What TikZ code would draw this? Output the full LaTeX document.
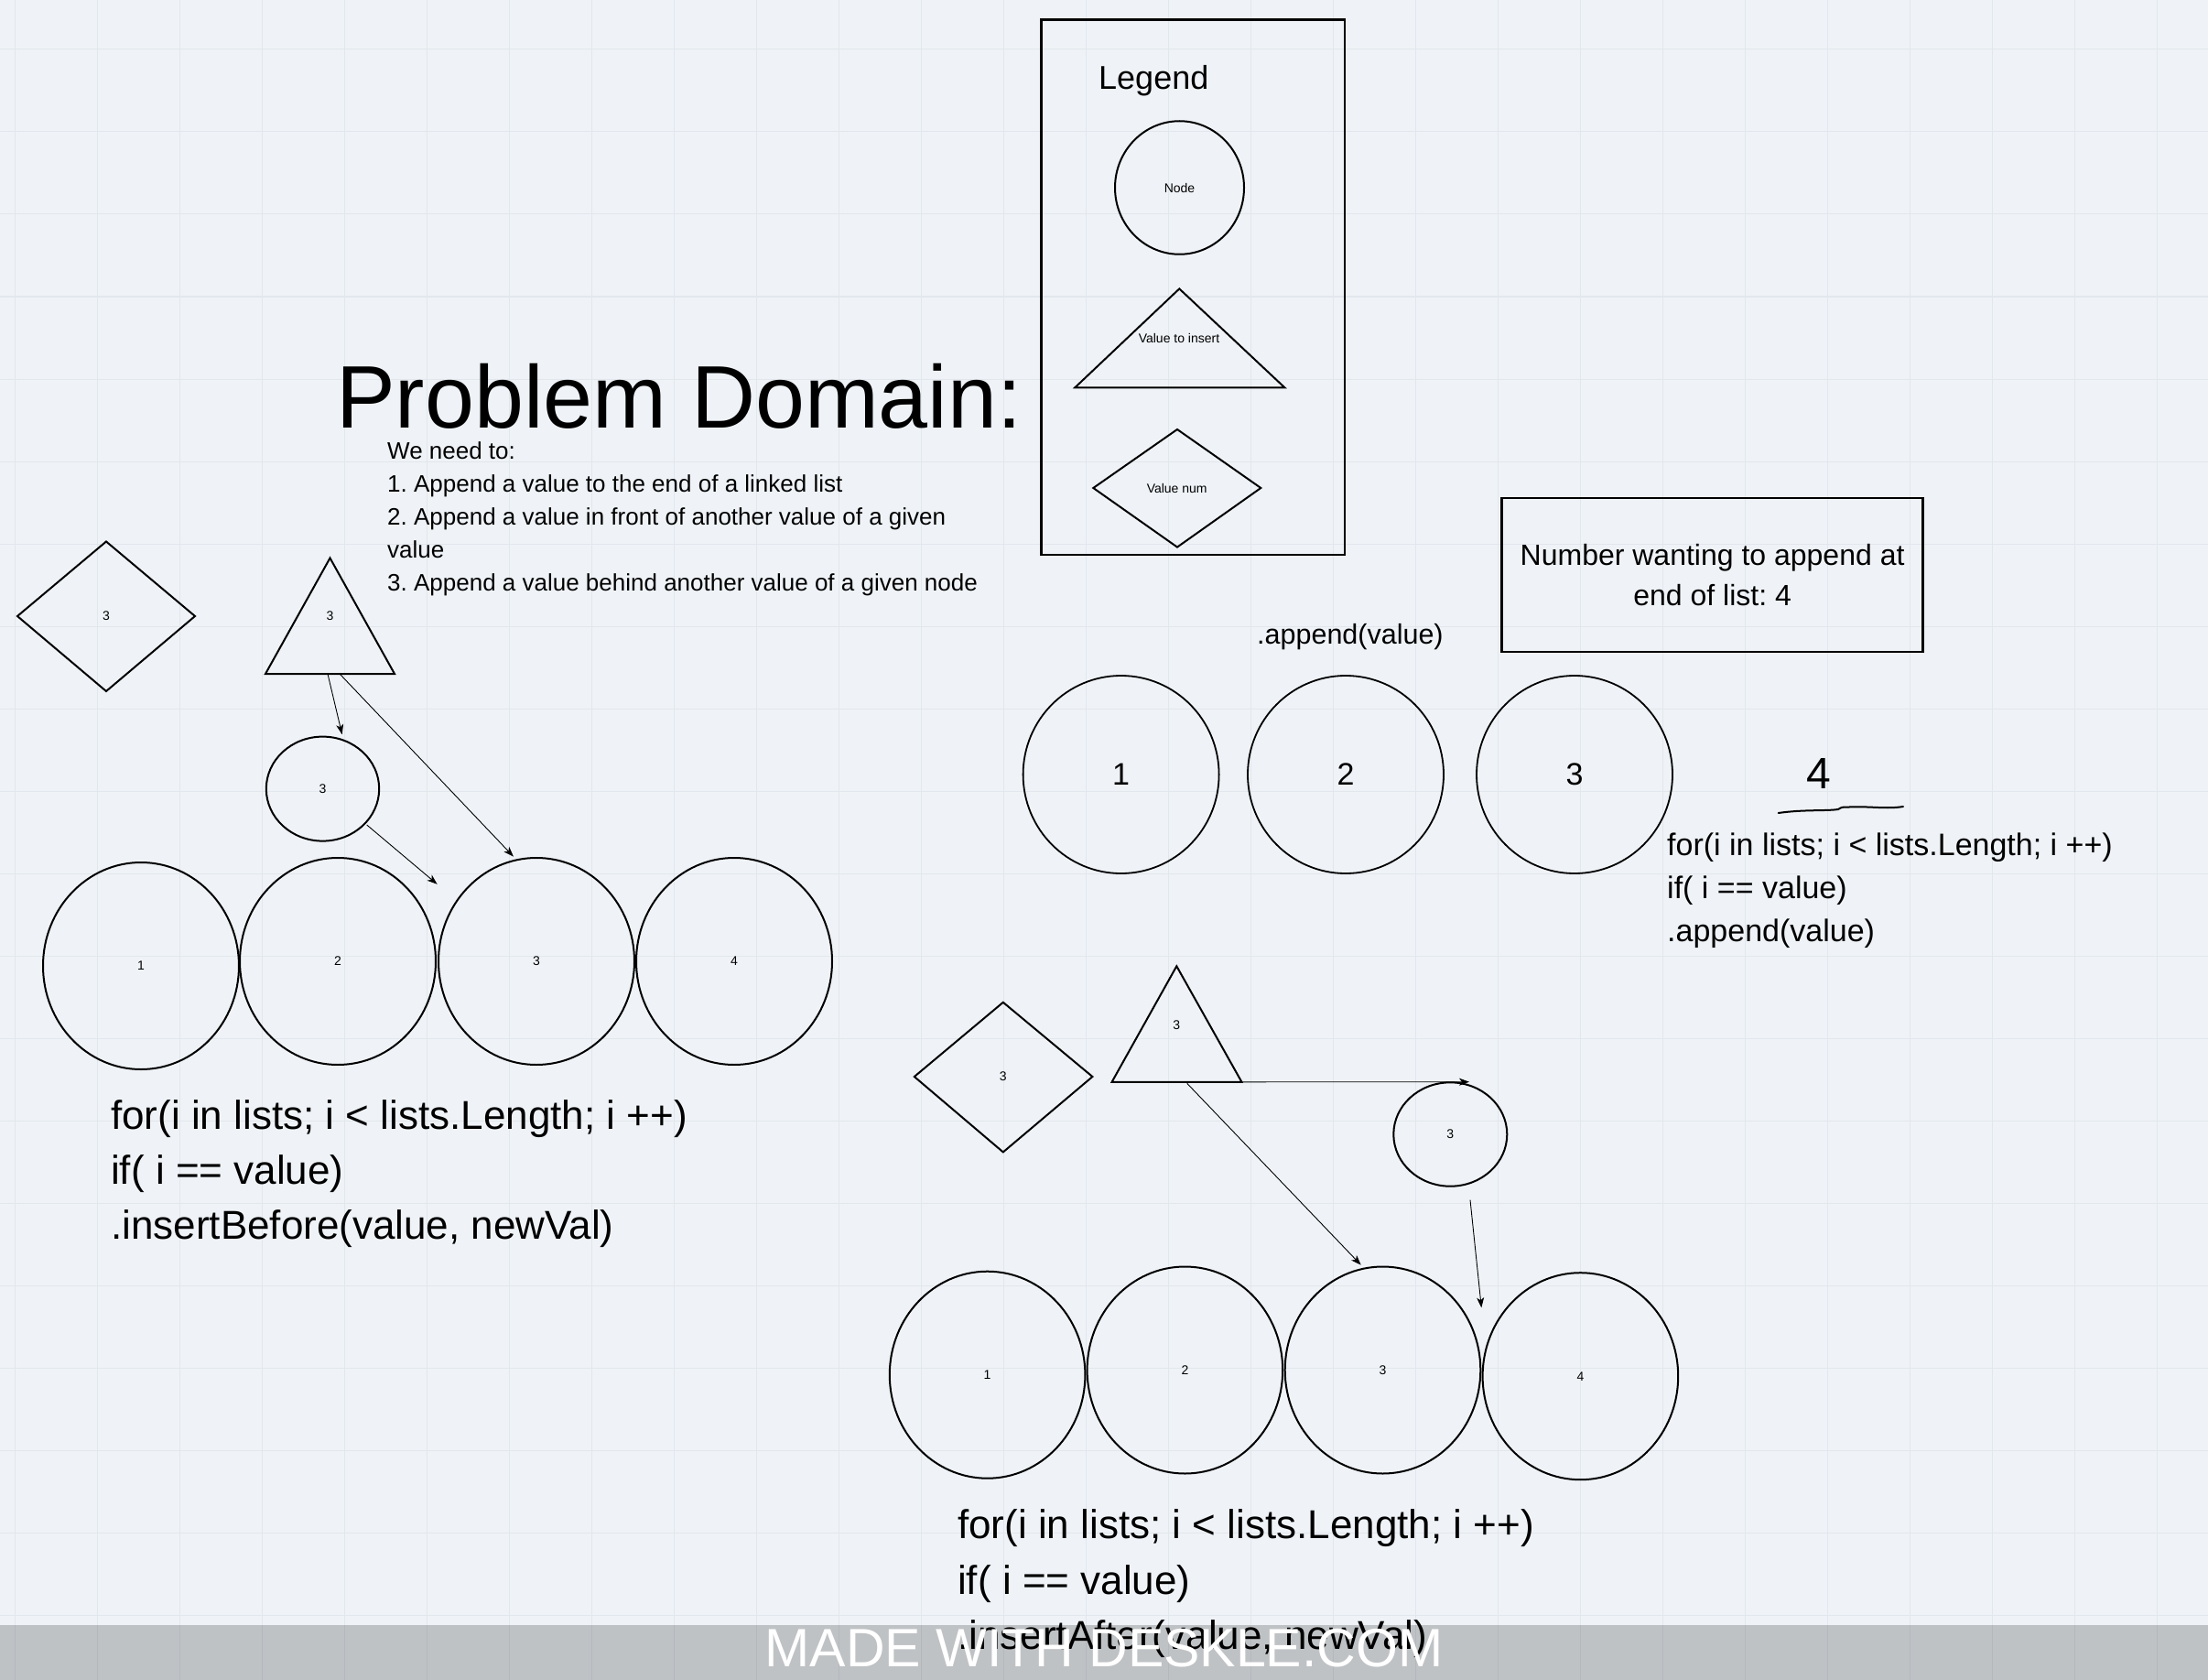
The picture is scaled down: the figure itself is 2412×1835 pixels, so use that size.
\documentclass[tikz,border=0pt]{standalone}
\usepackage{fontspec}
\setmainfont{Liberation Sans}
\usetikzlibrary{shapes.geometric,arrows.meta}
\definecolor{bg}{RGB}{239,243,247}
\definecolor{gridc}{RGB}{226,231,237}
\frenchspacing
\begin{document}
\begin{tikzpicture}[x=1pt,y=-1pt,
  shp/.style={draw=black, line width=2pt},
  ell/.style={shp, ellipse, inner sep=0pt, font=\fontsize{14}{16}\selectfont},
  lbl/.style={inner sep=0pt, font=\fontsize{14}{16}\selectfont},
  txt/.style={inner sep=0pt, anchor=base west},
  arr/.style={-{Stealth[length=11pt,width=8pt,inset=3pt]}, line width=0.9pt},
  bigcode/.style={txt, font=\fontsize{44}{60}\selectfont},
  midcode/.style={txt, font=\fontsize{34}{47}\selectfont},
  body/.style={txt, font=\fontsize{26}{36}\selectfont}]
\fill[bg] (0,0) rectangle (2412,1835);
\useasboundingbox (0,0) rectangle (2412,1835);
\foreach \i in {0,...,26} {\draw[gridc,line width=1pt] ({16.5+90*\i},0) -- ({16.5+90*\i},1835);}
\foreach \j in {0,...,19} {\draw[gridc,line width=1pt] (0,{54+90*\j}) -- (2412,{54+90*\j});}

% ---------- title and problem text ----------
\node[txt, font=\fontsize{97}{110}\selectfont] (title) at (367,467) {Problem Domain:};
\node[body] (b1) at (423,501) {We need to:};
\node[body] (b2) at (423,537) {1. Append a value to the end of a linked list};
\node[body] (b3) at (423,573) {2. Append a value in front of another value of a given};
\node[body] (b4) at (423,609) {value};
\node[body] (b5) at (423,645) {3. Append a value behind another value of a given node};

% ---------- legend ----------
\draw[line width=2.5pt] (1137.3,21.7) rectangle (1469,606);
\node[txt, font=\fontsize{36}{42}\selectfont] (legtitle) at (1200,97.6) {Legend};
\node[ell, minimum width=141pt, minimum height=145.5pt] (legnode) at (1288.5,205) {Node};
\draw[shp] (1288.3,315.4) -- (1174.3,423.3) -- (1403.3,423.3) -- cycle;
\node[lbl] (legtri) at (1288,369.6) {Value to insert};
\draw[shp] (1286,469) -- (1194.3,533) -- (1286,597.6) -- (1377.3,533) -- cycle;
\node[lbl] (legdia) at (1285.7,533) {Value num};

% ---------- append section ----------
\draw[line width=2.5pt] (1640.6,544) rectangle (2100.6,712);
\node[inner sep=0pt, anchor=base, font=\fontsize{32}{44}\selectfont] (nb1) at (1870.6,617.5) {Number wanting to append at};
\node[inner sep=0pt, anchor=base, font=\fontsize{32}{44}\selectfont] (nb2) at (1870.6,661) {end of list: 4};
\node[txt, font=\fontsize{30.5}{40}\selectfont] (appendlbl) at (1373,703) {.append(value)};
\node[ell, line width=1.8pt, minimum width=214pt, minimum height=216pt, font=\fontsize{34}{40}\selectfont] (ac1) at (1224.6,846) {1};
\node[ell, line width=1.8pt, minimum width=214pt, minimum height=216pt, font=\fontsize{34}{40}\selectfont] (ac2) at (1470,846) {2};
\node[ell, line width=1.8pt, minimum width=214pt, minimum height=216pt, font=\fontsize{34}{40}\selectfont] (ac3) at (1720,846) {3};
\node[inner sep=0pt, font=\fontsize{48}{56}\selectfont] (four) at (1987,844.5) {4};
\draw[line width=2pt, line cap=round] (1942.7,888) .. controls (1970,884) and (1995,886) .. (2008,884) .. controls (2012,881.5) .. (2020,881.5) .. controls (2045,880.5) and (2060,884) .. (2079,881);
\node[midcode] (rc1) at (1821,934) {for(i in lists; i < lists.Length; i ++)};
\node[midcode] (rc2) at (1821,981) {if( i == value)};
\node[midcode] (rc3) at (1821,1028) {.append(value)};

% ---------- insertBefore section ----------
\draw[shp] (116,591.5) -- (19,673) -- (116,755) -- (213,673) -- cycle;
\node[lbl] (ldia) at (116,673) {3};
\draw[shp] (360.5,609.5) -- (290,736) -- (431,736) -- cycle;
\node[lbl] (ltri) at (360.5,673) {3};
\node[ell, minimum width=123.4pt, minimum height=114pt] (lsc) at (352.5,861.6) {3};
\node[ell, minimum width=214pt, minimum height=226pt] (lc1) at (154,1055) {1};
\node[ell, minimum width=214pt, minimum height=226pt] (lc2) at (369,1050) {2};
\node[ell, minimum width=214pt, minimum height=226pt] (lc3) at (586,1050) {3};
\node[ell, minimum width=214pt, minimum height=226pt] (lc4) at (802,1050) {4};
\coordinate (la1s) at (358.2,737);
\coordinate (la1e) at (373.7,802.2);
\coordinate (la2s) at (370.3,735.2);
\coordinate (la2e) at (560.9,935.6);
\coordinate (la3s) at (400.7,901);
\coordinate (la3e) at (477.6,965.8);
\draw[arr] (la1s) -- (la1e);
\draw[arr] (la2s) -- (la2e);
\draw[arr] (la3s) -- (la3e);
\node[bigcode] (lcode1) at (121,1233) {for(i in lists; i < lists.Length; i ++)};
\node[bigcode] (lcode2) at (121,1293) {if( i == value)};
\node[bigcode] (lcode3) at (121,1353) {.insertBefore(value, newVal)};

% ---------- insertAfter section ----------
\draw[shp] (1095.8,1094.8) -- (998.8,1176) -- (1095.8,1258.4) -- (1193.4,1176) -- cycle;
\node[lbl] (bdia) at (1095.8,1176) {3};
\draw[shp] (1285.3,1055.3) -- (1214.6,1181.8) -- (1356.4,1181.8) -- cycle;
\node[lbl] (btri) at (1285.3,1119.3) {3};
\node[ell, minimum width=124pt, minimum height=113.4pt] (bsc) at (1584.3,1239) {3};
\node[ell, minimum width=213.6pt, minimum height=226pt] (bc1) at (1078.6,1501.7) {1};
\node[ell, minimum width=213.6pt, minimum height=226pt] (bc2) at (1294.4,1496.5) {2};
\node[ell, minimum width=213.6pt, minimum height=226pt] (bc3) at (1510.5,1496.5) {3};
\node[ell, minimum width=213.6pt, minimum height=226pt] (bc4) at (1726.4,1503.2) {4};
\coordinate (ba1s) at (1356.7,1181.8);
\coordinate (ba1e) at (1605,1181.7);
\coordinate (ba2s) at (1296.7,1183.3);
\coordinate (ba2e) at (1486.7,1381.7);
\coordinate (ba3s) at (1606,1310.7);
\coordinate (ba3e) at (1618.3,1428.3);
\draw[arr] (ba1s) -- (ba1e);
\draw[arr] (ba2s) -- (ba2e);
\draw[arr] (ba3s) -- (ba3e);
\node[bigcode] (bcode1) at (1046,1680.5) {for(i in lists; i < lists.Length; i ++)};
\node[bigcode] (bcode2) at (1046,1741.5) {if( i == value)};
\node[bigcode] (bcode3) at (1046,1801.5) {.insertAfter(value, newVal)};

% ---------- watermark ----------
\fill[black, opacity=0.2] (0,1775) rectangle (2412,1835);
\node[inner sep=0pt, anchor=base, text=white, font=\fontsize{59}{70}\selectfont] (wm) at (1206,1820) {MADE WITH DESKLE.COM};
\end{tikzpicture}
\end{document}
